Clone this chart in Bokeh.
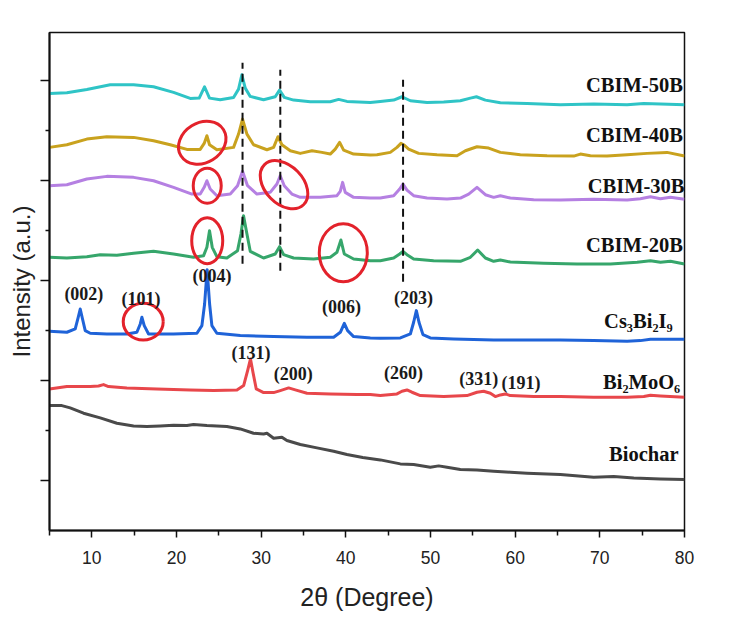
from bokeh.plotting import figure
from bokeh.models import Range1d, FixedTicker
from bokeh.embed import file_html
from bokeh.resources import INLINE
from bokeh.core.properties import value

# ---------------- data (2theta in degree, intensity in a.u., stacked) ----------------
tt_50B = [5.0, 7.05, 9.41, 12.17, 14.93, 17.29, 19.65, 21.62, 22.68, 23.31, 23.90, 25.16, 26.74, 27.33,
          27.72, 28.12, 28.71, 30.28, 31.66, 32.17, 32.73, 33.83, 35.80, 38.16, 39.15, 40.13, 42.89,
          44.07, 45.65, 46.63, 47.62, 49.59, 51.56, 53.53, 54.71, 55.42, 56.48, 58.25, 61.40, 65.34,
          69.28, 73.22, 75.19, 77.16, 80.0]
int_50B = [874.7, 876, 882.7, 892, 892, 888, 876.7, 864.7, 865.3, 888, 865.3, 862, 866.7, 883.3,
           912, 885.3, 868.7, 862, 868, 881.3, 866.7, 861.3, 858, 858, 862.7, 858.7, 856.7,
           858.7, 861.3, 868, 860, 856.7, 857.3, 860, 865.3, 868, 861.3, 856, 854.7, 852,
           853.3, 852, 854.7, 853.3, 852]

tt_40B = [5.0, 7.05, 9.41, 11.77, 14.93, 17.29, 19.26, 21.23, 22.80, 23.27, 23.59, 23.90, 24.77, 26.74,
          27.33, 27.80, 28.32, 29.10, 30.68, 31.47, 31.98, 32.45, 33.44, 34.62, 36.0, 37.18, 38.16,
          38.75, 39.27, 39.74, 40.92, 42.89, 43.68, 45.25, 46.04, 46.51, 46.83, 47.42, 48.60, 50.77,
          53.13, 54.12, 55.49, 56.87, 58.25, 60.61, 63.77, 66.92, 67.70, 68.89, 70.85, 73.22, 75.58,
          77.94, 80.0]
int_40B = [766.7, 772, 783.3, 788, 786.7, 780, 772, 762.7, 762.7, 774.7, 790, 772, 762, 766.7,
           793.3, 823.3, 793.3, 772, 762, 766.7, 788, 772, 760, 754.7, 760, 756.7, 753.3,
           763.3, 776.7, 761.3, 753.3, 751.3, 752, 756.7, 766.7, 774.7, 772, 763.3, 754.7, 752,
           750, 760, 768, 765.3, 756.7, 752, 750, 749.3, 753.3, 750, 749.3, 752, 754.7,
           756.7, 749.3]

tt_30B = [5.0, 7.05, 9.41, 11.77, 14.93, 17.29, 19.65, 21.82, 22.80, 23.27, 23.59, 23.98, 24.77, 26.35,
          27.21, 27.80, 28.39, 29.50, 31.07, 31.86, 32.25, 32.73, 33.63, 34.62, 36.98, 38.95, 39.34,
          39.62, 39.93, 40.92, 42.89, 44.07, 45.65, 46.36, 46.75, 47.22, 48.01, 49.59, 51.95, 53.53,
          54.51, 55.49, 56.48, 57.46, 58.25, 59.43, 62.19, 65.34, 69.28, 73.22, 74.79, 75.98, 77.16,
          78.34, 80.0]
int_30B = [690, 692, 703.3, 708.7, 706.7, 700, 686.7, 673.3, 673.3, 686.7, 700, 683.3, 670, 673.3,
           690, 718.7, 690, 673.3, 676.7, 693.3, 710, 690, 673.3, 666.7, 666.7, 670, 678.7,
           696.7, 676.7, 666.7, 665.3, 665.3, 670, 683.3, 693.3, 681.3, 670, 665.3, 663.3, 665.3,
           673.3, 686.7, 672, 666.7, 670, 665.3, 662, 661.3, 662.7, 661.3, 664, 668, 664,
           666.7, 662.7]

tt_20B = [5.0, 7.05, 9.41, 10.99, 12.96, 14.93, 17.29, 19.65, 22.01, 23.20, 23.59, 23.90, 24.22, 24.77,
          25.95, 27.21, 27.61, 27.92, 28.32, 28.71, 30.28, 31.66, 32.17, 32.65, 33.83, 36.19, 38.16,
          38.95, 39.42, 39.82, 40.92, 42.89, 44.07, 45.65, 46.36, 46.75, 47.22, 48.01, 50.37, 53.53,
          54.71, 55.57, 56.48, 57.46, 58.25, 59.43, 63.37, 67.31, 71.25, 74.40, 75.98, 77.16, 78.34,
          80.0]
int_20B = [546.7, 545.3, 548, 552, 550.7, 554.7, 558.7, 553.3, 546.7, 550, 566.7, 600, 566.7, 548,
           545.3, 560, 593.3, 630, 593.3, 558.7, 545.3, 553.3, 568, 552, 545.3, 543.3, 546.7,
           556.7, 581.3, 553.3, 543.3, 540, 540, 545.3, 553.3, 558.7, 552, 543.3, 540, 538.7,
           546.7, 561.3, 545.3, 538.7, 541.3, 537.3, 534.7, 533.3, 533.3, 536.7, 540, 536.7, 538.7,
           533.3]

tt_cbi = [5.0, 7.05, 8.04, 8.39, 8.63, 8.90, 9.22, 9.81, 11.78, 14.14, 15.32, 15.72, 15.91, 16.19,
          16.70, 19.65, 22.41, 23.0, 23.32, 23.62, 23.91, 24.18, 24.77, 27.53, 31.47, 35.41, 38.56,
          39.35, 39.82, 40.21, 40.92, 42.89, 44.07, 46.44, 47.62, 48.01, 48.33, 48.64, 49.11, 49.98,
          52.74, 57.46, 61.40, 65.34, 69.28, 73.22, 74.79, 75.98, 80.0]
int_cbi = [398.7, 396.7, 403.3, 426.7, 443.3, 423.3, 400, 394.7, 393.3, 393.3, 396.7, 413.3, 426.7, 410,
           393.3, 393.3, 394.7, 410, 453.3, 522, 453.3, 410, 394.7, 390, 388, 386.7, 386.7,
           396.7, 414.7, 400, 388, 385.3, 384.7, 385.3, 393.3, 416.7, 440, 416.7, 392, 385.3,
           383.3, 381.3, 381.3, 381.3, 380, 378.7, 380, 382.7, 382.7]

tt_bmo = [5.0, 7.05, 9.81, 10.79, 11.38, 11.97, 14.14, 17.68, 21.62, 24.38, 27.14, 27.93, 28.40, 28.74,
          29.03, 29.42, 30.29, 31.47, 32.26, 33.24, 34.03, 35.41, 38.17, 41.32, 42.89, 44.07, 46.04,
          46.63, 47.22, 47.81, 48.80, 51.56, 54.31, 55.49, 56.28, 57.07, 57.66, 58.25, 58.84, 59.43,
          62.19, 65.34, 69.28, 73.22, 75.19, 75.98, 77.16, 80.0]
int_bmo = [283.3, 288, 288, 289.3, 292, 288, 285.3, 283.3, 281.3, 280, 281.3, 290, 320, 343.3,
           316.7, 283.3, 276, 276, 280, 285.3, 281.3, 274.7, 273.3, 272, 272, 270, 273.3,
           278.7, 281.3, 276.7, 270, 268, 270, 276.7, 278.7, 274.7, 268, 271.3, 273.3, 270,
           268, 268, 266.7, 266.7, 268, 270.7, 269.3, 266.7]

tt_bc = [5.0, 6.46, 7.44, 9.02, 10.99, 12.96, 14.93, 16.50, 18.08, 19.65, 21.23, 22.01, 23.59, 25.95,
         27.53, 29.10, 30.29, 30.68, 31.47, 32.45, 33.04, 34.62, 36.59, 38.56, 40.13, 42.0, 44.07,
         46.44, 48.01, 49.98, 50.97, 51.95, 53.53, 55.49, 57.46, 59.43, 61.40, 65.34, 69.28, 71.64,
         74.01, 77.16, 80.0]
int_bc = [250, 250, 245.3, 234.7, 225.3, 214.7, 209.3, 208, 209.3, 210.7, 210, 212, 210, 208,
          203.3, 194.7, 193.3, 194.7, 184.7, 186.7, 180, 172, 165.3, 158.7, 152, 146, 141.3,
          133.3, 132, 126.7, 129.3, 126.7, 122, 121.3, 118.7, 116.7, 114.7, 112, 106.7, 108,
          105.3, 103.3, 102]

series_names = ["CBIM-50B", "CBIM-40B", "CBIM-30B", "CBIM-20B", "Cs₃Bi₂I₉", "Bi₂MoO₆", "Biochar"]
series_x = [tt_50B, tt_40B, tt_30B, tt_20B, tt_cbi, tt_bmo, tt_bc]
series_y = [int_50B, int_40B, int_30B, int_20B, int_cbi, int_bmo, int_bc]
label_x = [79.8, 79.8, 80.0, 79.8, 78.6, 79.5, 79.3]
label_y = [892, 792, 690, 572, 420, 298, 154]

hkl_text = ["(002)", "(101)", "(004)", "(006)", "(203)", "(131)", "(200)", "(260)", "(331)", "(191)"]
hkl_x = [9.06, 15.8, 24.2, 39.5, 48.0, 28.8, 33.8, 46.8, 55.7, 60.7]
hkl_y = [474, 463, 510, 447, 465, 355, 313, 315, 303, 295]

ref_x = [27.8, 32.26, 46.76]
ref_y0 = [534, 520, 498]
ref_y1 = [936, 922, 902]

mark_x = [23.04, 23.63, 32.7, 23.63, 39.7, 16.07]
mark_y = [776, 690, 692, 580, 556, 418]

x_ticks = [10, 20, 30, 40, 50, 60, 70, 80]
x_minor = [5, 15, 25, 35, 45, 55, 65, 75]
y_ticks = [100, 300, 500, 700, 900]
y_minor = [200, 400, 600, 800]

# ---------------- styles ----------------
colors = ["#2fc4c6", "#c9a21e", "#b580e2", "#36a66b", "#1f63d8", "#e8474b", "#4a4a4a"]
mark_w = [50, 28, 56, 31, 48, 40]
mark_h = [40, 35, 38, 46, 58, 37]
mark_angle = [0.55, 0.0, -0.8, 0.0, 0.0, 0.0]

p = figure(width=728, height=627, output_backend="svg", toolbar_location=None,
           x_range=Range1d(5, 80), y_range=Range1d(0, 996.6),
           min_border_left=49, min_border_right=44, min_border_top=32, min_border_bottom=97)
p.background_fill_color = "white"
p.border_fill_color = "white"
p.outline_line_color = "#111111"
p.outline_line_width = 1.5
p.xgrid.visible = False
p.ygrid.visible = False

for xs, ys, c in zip(series_x, series_y, colors):
    p.line(xs, ys, line_color=c, line_width=3, line_join="round")

p.segment(x0=ref_x, y0=ref_y0, x1=ref_x, y1=ref_y1, line_color="#111111",
          line_width=2, line_dash="8 5")

p.ellipse(x=mark_x, y=mark_y, width=mark_w, height=mark_h, angle=mark_angle,
          width_units="screen", height_units="screen",
          fill_alpha=0, line_color="#e3222b", line_width=3)

p.text(x=label_x, y=label_y, text=series_names, text_align="right", text_baseline="middle",
       text_font=value("Liberation Serif"), text_font_style="bold", text_font_size="20.5px",
       text_color="#111111")
p.text(x=hkl_x, y=hkl_y, text=hkl_text, text_align="center", text_baseline="middle",
       text_font=value("Liberation Serif"), text_font_style="bold", text_font_size="18px",
       text_color="#1a1a1a")

# axes
p.xaxis.ticker = FixedTicker(ticks=x_ticks, minor_ticks=x_minor)
p.yaxis.ticker = FixedTicker(ticks=y_ticks, minor_ticks=y_minor)
p.yaxis.major_label_overrides = {t: "" for t in y_ticks}
p.yaxis.major_label_standoff = 0
for ax in (p.xaxis, p.yaxis):
    ax.axis_line_width = 2
    ax.axis_line_color = "#111111"
    ax.major_tick_line_color = "#111111"
    ax.minor_tick_line_color = "#111111"
    ax.major_tick_line_width = 1.5
    ax.minor_tick_line_width = 1.5
    ax.major_tick_in = 0
    ax.minor_tick_in = 0
    ax.axis_label_text_font = "Liberation Sans"
    ax.axis_label_text_font_style = "normal"
    ax.axis_label_text_color = "#222222"
    ax.major_label_text_font = "Liberation Sans"
    ax.major_label_text_color = "#222222"
p.xaxis.major_tick_out = 7
p.xaxis.minor_tick_out = 5
p.yaxis.major_tick_out = 9
p.yaxis.minor_tick_out = 4
p.xaxis.major_label_text_font_size = "17.5px"
p.xaxis.major_label_standoff = 13
p.xaxis.axis_label = "2θ (Degree)"
p.xaxis.axis_label_text_font_size = "25px"
p.xaxis.axis_label_standoff = 16
p.yaxis.axis_label = "Intensity (a.u.)"
p.yaxis.axis_label_text_font_size = "24px"
p.yaxis.axis_label_standoff = 6

open("out.html", "w").write(file_html(p, INLINE))
